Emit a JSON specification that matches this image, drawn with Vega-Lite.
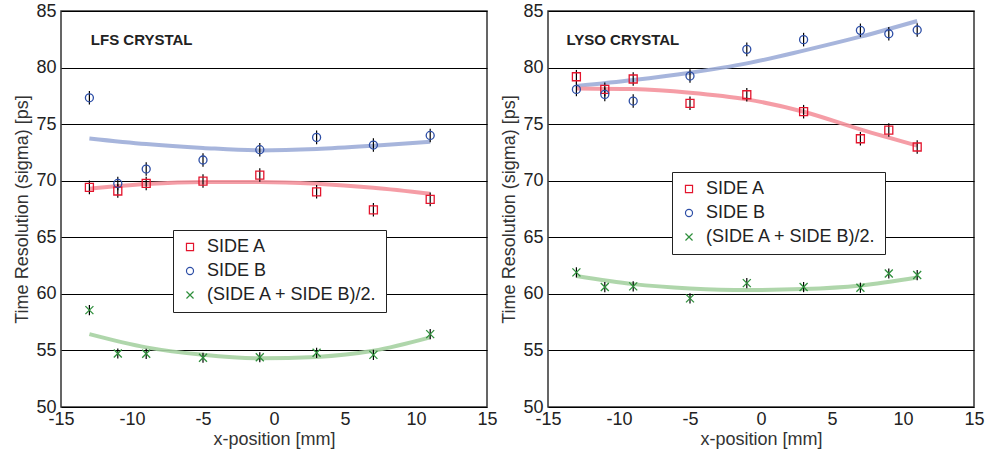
{
  "$schema": "https://vega.github.io/schema/vega-lite/v6.json",
  "padding": {"left": 13, "top": 1, "right": 5, "bottom": 3},
  "background": "white",
  "spacing": 2,
  "config": {
    "font": "Liberation Sans",
    "view": {"stroke": "#333", "strokeWidth": 1.5},
    "axis": {
      "labelFont": "Liberation Sans", "labelFontSize": 18, "labelColor": "#222",
      "titleFont": "Liberation Sans", "titleFontSize": 18, "titleFontWeight": "normal", "titleColor": "#333",
      "ticks": false, "domain": false, "gridColor": "#000", "gridOpacity": 1, "gridWidth": 1,
      "labelFlush": false,
      "labelExpr": "replace(datum.label, '\u2212', '-')"
    },
    "axisX": {"grid": false, "labelPadding": 3, "titlePadding": 2},
    "axisY": {"labelPadding": 5, "titlePadding": 4}
  },
  "datasets": {
    "pts": [
      {"panel": "LFS", "series": "SIDE A", "x": -13, "y": 69.41, "err": 0.6},
      {"panel": "LFS", "series": "SIDE A", "x": -11, "y": 69.09, "err": 0.6},
      {"panel": "LFS", "series": "SIDE A", "x": -9, "y": 69.76, "err": 0.6},
      {"panel": "LFS", "series": "SIDE A", "x": -5, "y": 69.97, "err": 0.6},
      {"panel": "LFS", "series": "SIDE A", "x": -1, "y": 70.5, "err": 0.6},
      {"panel": "LFS", "series": "SIDE A", "x": 3, "y": 69.02, "err": 0.6},
      {"panel": "LFS", "series": "SIDE A", "x": 7, "y": 67.43, "err": 0.6},
      {"panel": "LFS", "series": "SIDE A", "x": 11, "y": 68.35, "err": 0.6},
      {"panel": "LFS", "series": "SIDE B", "x": -13, "y": 77.33, "err": 0.6},
      {"panel": "LFS", "series": "SIDE B", "x": -11, "y": 69.76, "err": 0.6},
      {"panel": "LFS", "series": "SIDE B", "x": -9, "y": 71.03, "err": 0.6},
      {"panel": "LFS", "series": "SIDE B", "x": -5, "y": 71.83, "err": 0.6},
      {"panel": "LFS", "series": "SIDE B", "x": -1, "y": 72.74, "err": 0.6},
      {"panel": "LFS", "series": "SIDE B", "x": 3, "y": 73.83, "err": 0.6},
      {"panel": "LFS", "series": "SIDE B", "x": 7, "y": 73.15, "err": 0.6},
      {"panel": "LFS", "series": "SIDE B", "x": 11, "y": 74.0, "err": 0.6},
      {"panel": "LFS", "series": "(SIDE A + SIDE B)/2.", "x": -13, "y": 58.56, "err": 0.45},
      {"panel": "LFS", "series": "(SIDE A + SIDE B)/2.", "x": -11, "y": 54.73, "err": 0.45},
      {"panel": "LFS", "series": "(SIDE A + SIDE B)/2.", "x": -9, "y": 54.7, "err": 0.45},
      {"panel": "LFS", "series": "(SIDE A + SIDE B)/2.", "x": -5, "y": 54.35, "err": 0.45},
      {"panel": "LFS", "series": "(SIDE A + SIDE B)/2.", "x": -1, "y": 54.4, "err": 0.45},
      {"panel": "LFS", "series": "(SIDE A + SIDE B)/2.", "x": 3, "y": 54.79, "err": 0.45},
      {"panel": "LFS", "series": "(SIDE A + SIDE B)/2.", "x": 7, "y": 54.61, "err": 0.45},
      {"panel": "LFS", "series": "(SIDE A + SIDE B)/2.", "x": 11, "y": 56.44, "err": 0.45},
      {"panel": "LYSO", "series": "SIDE A", "x": -13, "y": 79.19, "err": 0.6},
      {"panel": "LYSO", "series": "SIDE A", "x": -11, "y": 78.07, "err": 0.6},
      {"panel": "LYSO", "series": "SIDE A", "x": -9, "y": 78.99, "err": 0.6},
      {"panel": "LYSO", "series": "SIDE A", "x": -5, "y": 76.84, "err": 0.6},
      {"panel": "LYSO", "series": "SIDE A", "x": -1, "y": 77.6, "err": 0.6},
      {"panel": "LYSO", "series": "SIDE A", "x": 3, "y": 76.1, "err": 0.6},
      {"panel": "LYSO", "series": "SIDE A", "x": 7, "y": 73.71, "err": 0.6},
      {"panel": "LYSO", "series": "SIDE A", "x": 9, "y": 74.48, "err": 0.6},
      {"panel": "LYSO", "series": "SIDE A", "x": 11, "y": 72.98, "err": 0.6},
      {"panel": "LYSO", "series": "SIDE B", "x": -13, "y": 78.07, "err": 0.6},
      {"panel": "LYSO", "series": "SIDE B", "x": -11, "y": 77.63, "err": 0.6},
      {"panel": "LYSO", "series": "SIDE B", "x": -9, "y": 77.04, "err": 0.6},
      {"panel": "LYSO", "series": "SIDE B", "x": -5, "y": 79.25, "err": 0.6},
      {"panel": "LYSO", "series": "SIDE B", "x": -1, "y": 81.61, "err": 0.6},
      {"panel": "LYSO", "series": "SIDE B", "x": 3, "y": 82.47, "err": 0.6},
      {"panel": "LYSO", "series": "SIDE B", "x": 7, "y": 83.29, "err": 0.6},
      {"panel": "LYSO", "series": "SIDE B", "x": 9, "y": 82.99, "err": 0.6},
      {"panel": "LYSO", "series": "SIDE B", "x": 11, "y": 83.32, "err": 0.6},
      {"panel": "LYSO", "series": "(SIDE A + SIDE B)/2.", "x": -13, "y": 61.9, "err": 0.45},
      {"panel": "LYSO", "series": "(SIDE A + SIDE B)/2.", "x": -11, "y": 60.6, "err": 0.45},
      {"panel": "LYSO", "series": "(SIDE A + SIDE B)/2.", "x": -9, "y": 60.66, "err": 0.45},
      {"panel": "LYSO", "series": "(SIDE A + SIDE B)/2.", "x": -5, "y": 59.6, "err": 0.45},
      {"panel": "LYSO", "series": "(SIDE A + SIDE B)/2.", "x": -1, "y": 60.95, "err": 0.45},
      {"panel": "LYSO", "series": "(SIDE A + SIDE B)/2.", "x": 3, "y": 60.6, "err": 0.45},
      {"panel": "LYSO", "series": "(SIDE A + SIDE B)/2.", "x": 7, "y": 60.54, "err": 0.45},
      {"panel": "LYSO", "series": "(SIDE A + SIDE B)/2.", "x": 9, "y": 61.8, "err": 0.45},
      {"panel": "LYSO", "series": "(SIDE A + SIDE B)/2.", "x": 11, "y": 61.66, "err": 0.45}
    ],
    "fit": [
      {"panel": "LFS", "series": "SIDE B", "x": -13, "y": 73.74},
      {"panel": "LFS", "series": "SIDE B", "x": -9, "y": 73.24},
      {"panel": "LFS", "series": "SIDE B", "x": -5, "y": 72.9},
      {"panel": "LFS", "series": "SIDE B", "x": -1, "y": 72.68},
      {"panel": "LFS", "series": "SIDE B", "x": 3, "y": 72.8},
      {"panel": "LFS", "series": "SIDE B", "x": 7, "y": 73.09},
      {"panel": "LFS", "series": "SIDE B", "x": 11, "y": 73.45},
      {"panel": "LFS", "series": "SIDE A", "x": -13, "y": 69.29},
      {"panel": "LFS", "series": "SIDE A", "x": -9, "y": 69.7},
      {"panel": "LFS", "series": "SIDE A", "x": -5, "y": 69.88},
      {"panel": "LFS", "series": "SIDE A", "x": -1, "y": 69.88},
      {"panel": "LFS", "series": "SIDE A", "x": 3, "y": 69.73},
      {"panel": "LFS", "series": "SIDE A", "x": 7, "y": 69.38},
      {"panel": "LFS", "series": "SIDE A", "x": 11, "y": 68.85},
      {"panel": "LFS", "series": "(SIDE A + SIDE B)/2.", "x": -13, "y": 56.44},
      {"panel": "LFS", "series": "(SIDE A + SIDE B)/2.", "x": -9, "y": 55.27},
      {"panel": "LFS", "series": "(SIDE A + SIDE B)/2.", "x": -5, "y": 54.61},
      {"panel": "LFS", "series": "(SIDE A + SIDE B)/2.", "x": -1, "y": 54.3},
      {"panel": "LFS", "series": "(SIDE A + SIDE B)/2.", "x": 3, "y": 54.43},
      {"panel": "LFS", "series": "(SIDE A + SIDE B)/2.", "x": 7, "y": 54.97},
      {"panel": "LFS", "series": "(SIDE A + SIDE B)/2.", "x": 11, "y": 56.15},
      {"panel": "LYSO", "series": "SIDE B", "x": -13, "y": 78.37},
      {"panel": "LYSO", "series": "SIDE B", "x": -9, "y": 78.9},
      {"panel": "LYSO", "series": "SIDE B", "x": -5, "y": 79.55},
      {"panel": "LYSO", "series": "SIDE B", "x": -1, "y": 80.37},
      {"panel": "LYSO", "series": "SIDE B", "x": 3, "y": 81.5},
      {"panel": "LYSO", "series": "SIDE B", "x": 7, "y": 82.73},
      {"panel": "LYSO", "series": "SIDE B", "x": 11, "y": 84.12},
      {"panel": "LYSO", "series": "SIDE A", "x": -13, "y": 78.16},
      {"panel": "LYSO", "series": "SIDE A", "x": -9, "y": 78.1},
      {"panel": "LYSO", "series": "SIDE A", "x": -5, "y": 77.78},
      {"panel": "LYSO", "series": "SIDE A", "x": -1, "y": 77.19},
      {"panel": "LYSO", "series": "SIDE A", "x": 3, "y": 76.1},
      {"panel": "LYSO", "series": "SIDE A", "x": 7, "y": 74.54},
      {"panel": "LYSO", "series": "SIDE A", "x": 11, "y": 73.1},
      {"panel": "LYSO", "series": "(SIDE A + SIDE B)/2.", "x": -13, "y": 61.57},
      {"panel": "LYSO", "series": "(SIDE A + SIDE B)/2.", "x": -9, "y": 60.86},
      {"panel": "LYSO", "series": "(SIDE A + SIDE B)/2.", "x": -5, "y": 60.48},
      {"panel": "LYSO", "series": "(SIDE A + SIDE B)/2.", "x": -1, "y": 60.33},
      {"panel": "LYSO", "series": "(SIDE A + SIDE B)/2.", "x": 3, "y": 60.42},
      {"panel": "LYSO", "series": "(SIDE A + SIDE B)/2.", "x": 7, "y": 60.74},
      {"panel": "LYSO", "series": "(SIDE A + SIDE B)/2.", "x": 11, "y": 61.45}
    ],
    "lbl": [
      {"panel": "LFS", "x": -12.9, "y": 82.4, "label": "LFS CRYSTAL"},
      {"panel": "LYSO", "x": -13.7, "y": 82.4, "label": "LYSO CRYSTAL"}
    ]
  },
  "hconcat": [
    {
      "width": 426, "height": 396,
      "layer": [
        {
          "data": {"name": "fit"}, "transform": [{"filter": "datum.panel === 'LFS'"}],
          "mark": {"type": "line", "interpolate": "monotone", "strokeWidth": 4, "opacity": 0.9},
          "encoding": {
            "x": {"field": "x", "type": "quantitative", "title": "x-position [mm]", "scale": {"domain": [-15, 15], "nice": false}, "axis": {"values": [-15, -10, -5, 0, 5, 10, 15]}},
            "y": {"field": "y", "type": "quantitative", "title": "Time Resolution (sigma) [ps]", "scale": {"domain": [50, 85], "nice": false}, "axis": {"values": [50, 55, 60, 65, 70, 75, 80, 85]}},
            "stroke": {"field": "series", "type": "nominal", "scale": {"domain": ["SIDE A", "SIDE B", "(SIDE A + SIDE B)/2."], "range": ["#f4929c", "#9dadd8", "#a6d1a2"]}, "legend": null}
          }
        },
        {
          "data": {"name": "pts"}, "transform": [{"filter": "datum.panel === 'LFS'"}],
          "mark": {"type": "errorbar", "color": "#000", "thickness": 1.2},
          "encoding": {
            "x": {"field": "x", "type": "quantitative", "title": "x-position [mm]"},
            "y": {"field": "y", "type": "quantitative", "title": "Time Resolution (sigma) [ps]"},
            "yError": {"field": "err"}
          }
        },
        {
          "data": {"name": "pts"}, "transform": [{"filter": "datum.panel === 'LFS'"}],
          "mark": {"type": "point", "filled": false, "strokeWidth": 1.3, "size": 64, "opacity": 1},
          "encoding": {
            "x": {"field": "x", "type": "quantitative", "title": "x-position [mm]"},
            "y": {"field": "y", "type": "quantitative", "title": "Time Resolution (sigma) [ps]"},
            "color": {"field": "series", "type": "nominal", "scale": {"domain": ["SIDE A", "SIDE B", "(SIDE A + SIDE B)/2."], "range": ["#e3152d", "#2d4ea6", "#2f8f3c"]},
              "legend": {"title": null, "orient": "none", "legendX": 112, "legendY": 219, "strokeColor": "#222", "fillColor": "white", "padding": 8, "labelFont": "Liberation Sans", "labelFontSize": 18, "labelColor": "#222", "labelLimit": 0, "symbolSize": 50, "symbolStrokeWidth": 1.2, "rowPadding": 6, "labelOffset": 8}},
            "shape": {"field": "series", "type": "nominal", "scale": {"domain": ["SIDE A", "SIDE B", "(SIDE A + SIDE B)/2."], "range": ["square", "circle", "M-1,-1L1,1M-1,1L1,-1"]},
              "legend": {"title": null, "orient": "none", "legendX": 112, "legendY": 219, "strokeColor": "#222", "fillColor": "white", "padding": 8, "labelFont": "Liberation Sans", "labelFontSize": 18, "labelColor": "#222", "labelLimit": 0, "symbolSize": 50, "symbolStrokeWidth": 1.2, "rowPadding": 6, "labelOffset": 8}}
          }
        },
        {
          "data": {"name": "lbl"}, "transform": [{"filter": "datum.panel === 'LFS'"}],
          "mark": {"type": "text", "align": "left", "baseline": "middle", "fontWeight": "bold", "fontSize": 15, "font": "Liberation Sans", "color": "#222"},
          "encoding": {
            "x": {"field": "x", "type": "quantitative", "title": "x-position [mm]"},
            "y": {"field": "y", "type": "quantitative", "title": "Time Resolution (sigma) [ps]"},
            "text": {"field": "label"}
          }
        }
      ]
    },
    {
      "width": 426, "height": 396,
      "layer": [
        {
          "data": {"name": "fit"}, "transform": [{"filter": "datum.panel === 'LYSO'"}],
          "mark": {"type": "line", "interpolate": "monotone", "strokeWidth": 4, "opacity": 0.9},
          "encoding": {
            "x": {"field": "x", "type": "quantitative", "title": "x-position [mm]", "scale": {"domain": [-15, 15], "nice": false}, "axis": {"values": [-15, -10, -5, 0, 5, 10, 15]}},
            "y": {"field": "y", "type": "quantitative", "title": "Time Resolution (sigma) [ps]", "scale": {"domain": [50, 85], "nice": false}, "axis": {"values": [50, 55, 60, 65, 70, 75, 80, 85]}},
            "stroke": {"field": "series", "type": "nominal", "scale": {"domain": ["SIDE A", "SIDE B", "(SIDE A + SIDE B)/2."], "range": ["#f4929c", "#9dadd8", "#a6d1a2"]}, "legend": null}
          }
        },
        {
          "data": {"name": "pts"}, "transform": [{"filter": "datum.panel === 'LYSO'"}],
          "mark": {"type": "errorbar", "color": "#000", "thickness": 1.2},
          "encoding": {
            "x": {"field": "x", "type": "quantitative", "title": "x-position [mm]"},
            "y": {"field": "y", "type": "quantitative", "title": "Time Resolution (sigma) [ps]"},
            "yError": {"field": "err"}
          }
        },
        {
          "data": {"name": "pts"}, "transform": [{"filter": "datum.panel === 'LYSO'"}],
          "mark": {"type": "point", "filled": false, "strokeWidth": 1.3, "size": 64, "opacity": 1},
          "encoding": {
            "x": {"field": "x", "type": "quantitative", "title": "x-position [mm]"},
            "y": {"field": "y", "type": "quantitative", "title": "Time Resolution (sigma) [ps]"},
            "color": {"field": "series", "type": "nominal", "scale": {"domain": ["SIDE A", "SIDE B", "(SIDE A + SIDE B)/2."], "range": ["#e3152d", "#2d4ea6", "#2f8f3c"]},
              "legend": {"title": null, "orient": "none", "legendX": 124, "legendY": 161, "strokeColor": "#222", "fillColor": "white", "padding": 8, "labelFont": "Liberation Sans", "labelFontSize": 18, "labelColor": "#222", "labelLimit": 0, "symbolSize": 50, "symbolStrokeWidth": 1.2, "rowPadding": 6, "labelOffset": 8}},
            "shape": {"field": "series", "type": "nominal", "scale": {"domain": ["SIDE A", "SIDE B", "(SIDE A + SIDE B)/2."], "range": ["square", "circle", "M-1,-1L1,1M-1,1L1,-1"]},
              "legend": {"title": null, "orient": "none", "legendX": 124, "legendY": 161, "strokeColor": "#222", "fillColor": "white", "padding": 8, "labelFont": "Liberation Sans", "labelFontSize": 18, "labelColor": "#222", "labelLimit": 0, "symbolSize": 50, "symbolStrokeWidth": 1.2, "rowPadding": 6, "labelOffset": 8}}
          }
        },
        {
          "data": {"name": "lbl"}, "transform": [{"filter": "datum.panel === 'LYSO'"}],
          "mark": {"type": "text", "align": "left", "baseline": "middle", "fontWeight": "bold", "fontSize": 15, "font": "Liberation Sans", "color": "#222"},
          "encoding": {
            "x": {"field": "x", "type": "quantitative", "title": "x-position [mm]"},
            "y": {"field": "y", "type": "quantitative", "title": "Time Resolution (sigma) [ps]"},
            "text": {"field": "label"}
          }
        }
      ]
    }
  ],
  "resolve": {
    "scale": {"color": "independent", "shape": "independent", "x": "independent", "y": "independent"},
    "legend": {"color": "independent", "shape": "independent"}
  }
}
